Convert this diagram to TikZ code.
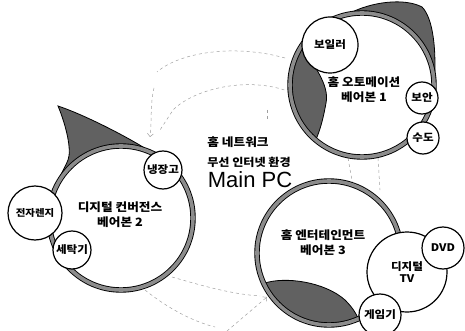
\documentclass[tikz,border=0pt]{standalone}
\usepackage{fontspec}
\newfontfamily\kr{Noto Sans CJK KR}[BoldFont={Noto Sans CJK KR Black}, FakeStretch=1.1]
\newfontfamily\mainpc{Liberation Sans}
\usetikzlibrary{calc,arrows.meta}
\begin{document}
\begin{tikzpicture}[x=1pt,y=-1pt,
  ring/.style={circle, draw=black, line width=0.9pt, double=black!45, double distance=3.6pt, inner sep=0pt, minimum size=#1},
  dev/.style={circle, draw=black, line width=1.2pt, fill=white, inner sep=0pt, minimum size=#1, align=center,
    font=\kr\bfseries\fontsize{10.5}{11.5}\selectfont},
  blob/.style={fill=black!62, draw=black, line width=0.8pt},
  link/.style={draw=gray!75, line width=0.5pt, dash pattern=on 3pt off 3pt},
  lbl/.style={align=center, font=\kr\bfseries\fontsize{11.5}{15}\selectfont}]
\useasboundingbox (0,0) rectangle (465,331);
\coordinate (k1) at (362,85);
\coordinate (k2) at (121,218);
\coordinate (k3) at (329,253);

% dashed wireless links
\coordinate (a1) at (285,58);
\coordinate (a2) at (157,72);
\coordinate (a3) at (154,88);
\coordinate (a4) at (150,137);
\coordinate (b1) at (290,92);
\coordinate (b2) at (173,110);
\coordinate (b3) at (160,130);
\coordinate (s1) at (267,110);
\coordinate (s2) at (267,119);
\coordinate (v1) at (348,158);
\coordinate (v2) at (353,186);
\coordinate (w1) at (378,158);
\coordinate (w2) at (380,190);
\coordinate (d1) at (172,277);
\coordinate (d2) at (260,296);
\coordinate (e1) at (145,290);
\coordinate (e2) at (215,327);
\coordinate (f1) at (227,331);
\coordinate (f2) at (267,297);
\draw[link] (a1) .. controls (235,44) and (180,52) .. (a2);
\draw[link, -{Straight Barb[length=3pt]}] (a3) .. controls (150,105) and (152,120) .. (a4);
\draw[link] (b1) .. controls (250,76) and (195,88) .. (b2) -- (b3);
\draw[link] (s1) -- (s2);
\draw[link] (v1) -- (v2);
\draw[link] (w1) -- (w2);
\draw[link] (d1) .. controls (200,285) and (230,294) .. (d2);
\draw[link] (e1) .. controls (170,310) and (195,322) .. (e2);
\draw[link, -{Straight Barb[length=3pt]}] (f1) -- (f2);

% shaded blobs
\filldraw[blob] ($(k1)+(258:72)$) .. controls (372,1) and (405,-2) .. (422,7)
  .. controls (433,18) and (437,50) .. ($(k1)+(2:72)$) arc[start angle=2, end angle=-102, radius=72] -- cycle;
\filldraw[blob] ($(k1)+(130:72)$) arc[start angle=130, end angle=212, radius=72]
  .. controls (312,62) and (330,85) .. (326,103) .. controls (323,120) and (320,130) .. cycle;
\filldraw[blob] ($(k2)+(-62:72)$) .. controls (130,138) and (85,115) .. (58,106)
  .. controls (66,125) and (72,150) .. (68,160) .. controls (64,170) and (58,178) .. ($(k2)+(205:72)$)
  arc[start angle=205, end angle=298, radius=72] -- cycle;
\filldraw[blob] ($(k3)+(155:72)$) .. controls (285,276) and (325,282) .. (345,300)
  .. controls (352,307) and (356,313) .. ($(k3)+(66:72)$) arc[start angle=66, end angle=155, radius=72] -- cycle;

% big rings
\node[ring=144pt] (c1) at (k1) {};
\node[ring=144pt] (c2) at (k2) {};
\node[ring=144pt] (c3) at (k3) {};

% devices
\node[dev=56pt] (boiler) at (330,45) {보일러};
\node[dev=32pt] (sec) at (422,98) {보안};
\node[dev=32pt] (water) at (423,138) {수도};
\node[dev=38pt] (fridge) at (163,170) {냉장고};
\node[dev=54pt, font=\kr\bfseries\fontsize{9.5}{11}\selectfont] (micro) at (35,213) {전자렌지};
\node[dev=38pt] (wash) at (72,250) {세탁기};
\node[dev=80pt] (tv) at (407,272) {디지털\\TV};
\node[dev=42pt] (dvd) at (443,248) {DVD};
\node[dev=42pt] (game) at (380,315) {게임기};

% labels
\node[lbl] (t1) at (364,90) {홈 오토메이션\\베어본 1};
\node[lbl] (t2) at (120,215) {디지털 컨버전스\\베어본 2};
\node[lbl] (t3) at (323,243) {홈 엔터테인먼트\\베어본 3};
\node[font=\kr\bfseries\fontsize{11.5}{14}\selectfont] (hn) at (238,142) {홈 네트워크};
\node[font=\kr\bfseries\fontsize{11}{12}\selectfont] (wl) at (249,162) {무선 인터넷 환경};
\node[font=\mainpc\fontsize{22}{24}\selectfont] (pc) at (250,180) {Main PC};
\end{tikzpicture}
\end{document}
